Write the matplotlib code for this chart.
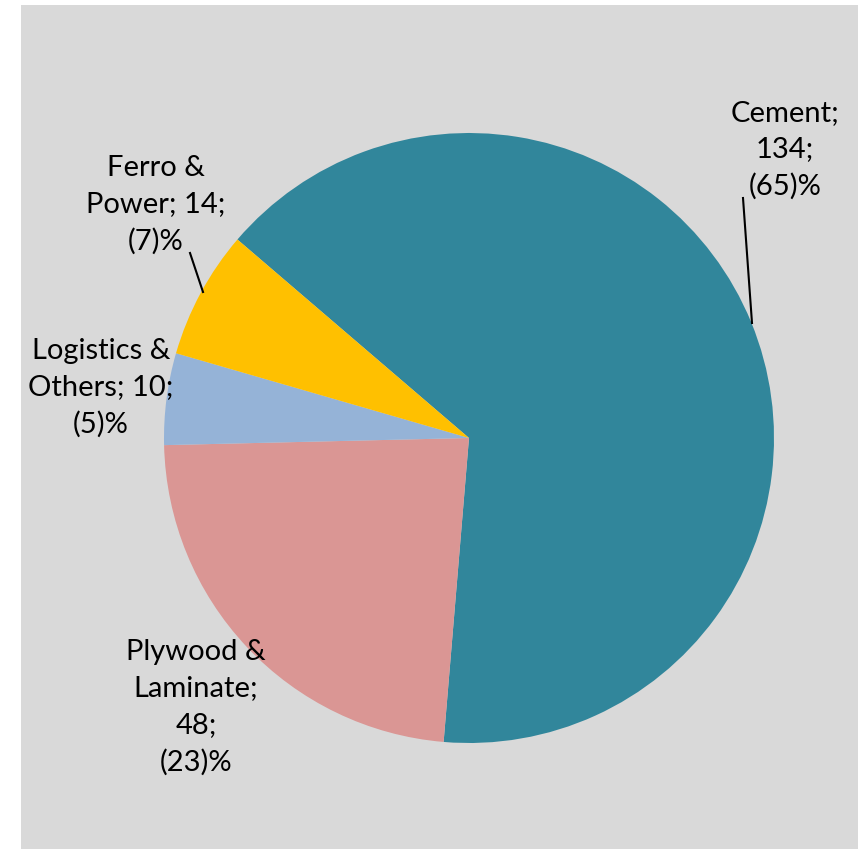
import matplotlib
matplotlib.use("Agg")
import matplotlib.pyplot as plt
from matplotlib.patches import Rectangle

categories = ["Cement", "Plywood &\nLaminate", "Logistics &\nOthers", "Ferro &\nPower"]
values = [134, 48, 10, 14]
percents = [65, 23, 5, 7]
colors = ["#31869B", "#DA9694", "#95B3D7", "#FFC000"]

label_texts = ["Cement;\n134;\n(65)%",
               "Plywood &\nLaminate;\n48;\n(23)%",
               "Logistics &\nOthers; 10;\n(5)%",
               "Ferro &\nPower; 14;\n(7)%"]
# label block centres in pixels (x, y from top)
label_px = [(785, 150), (196, 707), (101, 388), (156, 205)]
# leader lines in pixels: (x0,y0,x1,y1)
leaders = {0: (743, 198, 752, 323), 3: (190, 253, 203, 292)}

W, H = 858, 849
fig = plt.figure(figsize=(W / 100, H / 100), dpi=100)
fig.patch.set_facecolor("white")
fig.patches.append(Rectangle((21 / W, 0), 1 - 21 / W, (H - 5) / H,
                             transform=fig.transFigure, facecolor="#D9D9D9",
                             edgecolor="none", zorder=-10))

cx, cy, r = 469, 438, 305
ax = fig.add_axes([(cx - r) / W, (H - cy - r) / H, 2 * r / W, 2 * r / H])
ax.set_zorder(1)
ax.set_facecolor("none")
ax.pie(values, colors=colors, startangle=139.4, counterclock=False,
       radius=1, wedgeprops=dict(linewidth=0))
ax.set_xlim(-1, 1)
ax.set_ylim(-1, 1)
ax.set_aspect("equal")
ax.axis("off")


def px2data(x, y):
    return (x - cx) / r, (cy - y) / r


for i, txt in enumerate(label_texts):
    x, y = px2data(*label_px[i])
    ax.text(x, y, txt, ha="center", va="center", fontsize=21,
            family=["Lato", "DejaVu Sans"], color="black",
            linespacing=1.5, clip_on=False)

for i, (x0, y0, x1, y1) in leaders.items():
    a = px2data(x0, y0)
    b = px2data(x1, y1)
    ax.plot([a[0], b[0]], [a[1], b[1]], color="black", lw=1.5, clip_on=False)

fig.savefig("out.png", dpi=100, facecolor=fig.get_facecolor())
